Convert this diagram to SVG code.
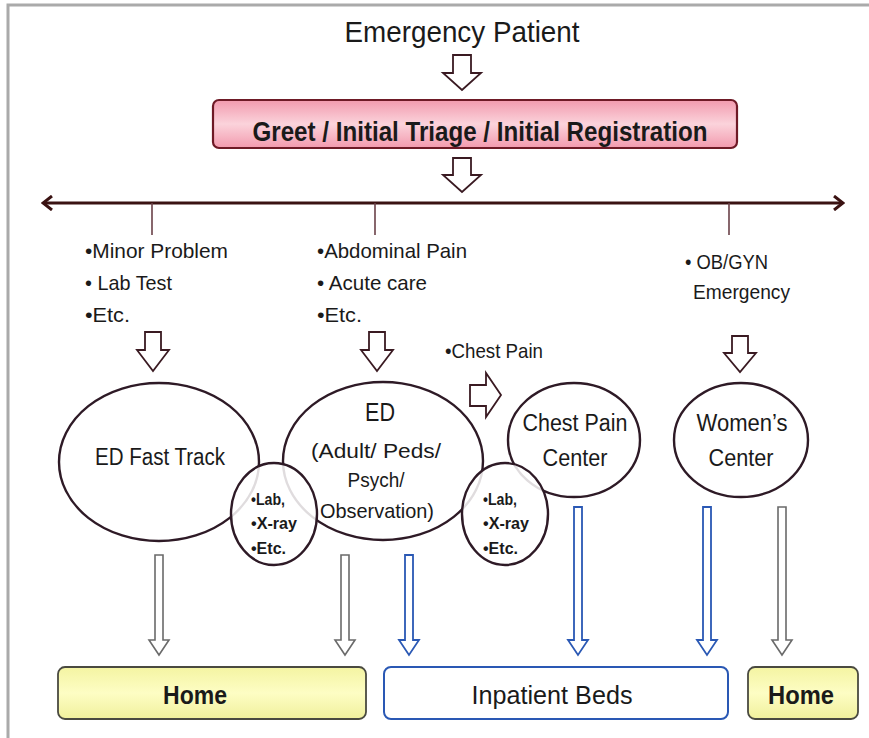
<svg xmlns="http://www.w3.org/2000/svg" width="869" height="738" viewBox="0 0 869 738">
  <defs>
    <linearGradient id="pinkFill" x1="0" y1="0" x2="0" y2="1">
      <stop offset="0" stop-color="#f29aae"/>
      <stop offset="0.5" stop-color="#fbd3db"/>
      <stop offset="1" stop-color="#f29aae"/>
    </linearGradient>
    <linearGradient id="yellowFill" x1="0" y1="0" x2="0" y2="1">
      <stop offset="0" stop-color="#f4f4a2"/>
      <stop offset="0.5" stop-color="#fdfdc4"/>
      <stop offset="1" stop-color="#f0f09c"/>
    </linearGradient>
    <marker id="chev" viewBox="0 0 12 16" refX="10" refY="8" markerWidth="12" markerHeight="16" markerUnits="userSpaceOnUse" orient="auto-start-reverse">
      <path d="M1,1 L10,8 L1,15" fill="none" stroke="#3a1212" stroke-width="3"/>
    </marker>
  </defs>
  <style>
    text { font-family: "Liberation Sans Narrow", "Liberation Sans", Arial, sans-serif; fill: #1a1a1a; }
    .t19 { font-size: 21px; }
    .t21 { font-size: 23px; }
    .sm { font-size: 16px; font-weight: bold; }
    .c { text-anchor: middle; }
    .hollow { fill: #ffffff; stroke: #3a1a22; stroke-width: 1.8; stroke-linejoin: miter; }
    .thinGray { fill: #ffffff; stroke: #6a6a6a; stroke-width: 1.6; }
    .thinBlue { fill: #ffffff; stroke: #2a58b4; stroke-width: 1.8; }
    .oval { fill: #ffffff; stroke: #2e1a26; stroke-width: 2.4; }
    .sub { fill: #ffffff; fill-opacity: 0.85; stroke: #2e1a26; stroke-width: 2.4; }
    .tick { stroke: #6a4048; stroke-width: 1.6; }
  </style>

  <!-- frame -->
  <path d="M8,738 V5 H869" fill="none" stroke="#aaaaaa" stroke-width="3"/>

  <g id="patient">
    <text x="462" y="42" class="c" font-size="29" textLength="235" lengthAdjust="spacingAndGlyphs">Emergency Patient</text>
  </g>

  <g id="triage">
    <rect x="213" y="100" width="524" height="48" rx="6" fill="url(#pinkFill)" stroke="#6e1a26" stroke-width="2.2"/>
    <text x="480" y="141" class="c" font-size="27" font-weight="bold" textLength="455" lengthAdjust="spacingAndGlyphs">Greet / Initial Triage / Initial Registration</text>
  </g>

  <g id="connectors">
    <!-- hollow block arrows -->
    <path class="hollow" d="M453,55 H471 V73 H481 L462,90 L443,73 H453 Z"/>
    <path class="hollow" d="M453,158 H471 V175 H481 L462,192 L443,175 H453 Z"/>
    <path class="hollow" d="M145,332 H161 V350 H169 L153,371 L137,350 H145 Z"/>
    <path class="hollow" d="M369,332 H385 V350 H393 L377,371 L361,350 H369 Z"/>
    <path class="hollow" d="M732,336 H748 V353 H756 L740,372 L724,353 H732 Z"/>
    <path class="hollow" d="M470,385 H486 V373 L501,395 L486,417 V406 H470 Z"/>

    <!-- distribution line -->
    <line x1="43" y1="203" x2="843" y2="203" stroke="#3a1212" stroke-width="3" marker-start="url(#chev)" marker-end="url(#chev)"/>
    <line class="tick" x1="152" y1="203" x2="152" y2="235"/>
    <line class="tick" x1="375" y1="203" x2="375" y2="235"/>
    <line class="tick" x1="729" y1="203" x2="729" y2="235"/>

    <!-- outflow arrows -->
    <path class="thinGray" d="M155,555 H163 V640 H169 L159,655 L149,640 H155 Z"/>
    <path class="thinGray" d="M341,555 H349 V640 H355 L345,655 L335,640 H341 Z"/>
    <path class="thinBlue" d="M405,555 H413 V640 H419 L409,655 L399,640 H405 Z"/>
    <path class="thinBlue" d="M574,507 H582 V640 H588 L578,655 L568,640 H574 Z"/>
    <path class="thinBlue" d="M703,507 H711 V640 H717 L707,655 L697,640 H703 Z"/>
    <path class="thinGray" d="M778,507 H786 V640 H792 L782,655 L772,640 H778 Z"/>
  </g>

  <g id="criteria">
    <text x="85" y="258" class="t19" textLength="143" lengthAdjust="spacingAndGlyphs">•Minor Problem</text>
    <text x="85" y="290" class="t19" textLength="87" lengthAdjust="spacingAndGlyphs">• Lab Test</text>
    <text x="85" y="322" class="t19" textLength="45" lengthAdjust="spacingAndGlyphs">•Etc.</text>
    <text x="317" y="258" class="t19" textLength="150" lengthAdjust="spacingAndGlyphs">•Abdominal Pain</text>
    <text x="317" y="290" class="t19" textLength="110" lengthAdjust="spacingAndGlyphs">• Acute care</text>
    <text x="317" y="322" class="t19" textLength="45" lengthAdjust="spacingAndGlyphs">•Etc.</text>
    <text x="685" y="269" class="t19" textLength="83" lengthAdjust="spacingAndGlyphs">• OB/GYN</text>
    <text x="693" y="299" class="t19" textLength="97" lengthAdjust="spacingAndGlyphs">Emergency</text>
    <text x="445" y="358" class="t19" textLength="98" lengthAdjust="spacingAndGlyphs">•Chest Pain</text>
  </g>

  <g id="fast-track">
    <ellipse class="oval" cx="159" cy="462" rx="100" ry="79"/>
    <text x="160" y="465" class="t21 c" textLength="130" lengthAdjust="spacingAndGlyphs">ED Fast Track</text>
  </g>

  <g id="ed-main">
    <ellipse class="oval" cx="383" cy="461" rx="100" ry="79"/>
    <text x="380" y="421" class="c" font-size="25" textLength="30" lengthAdjust="spacingAndGlyphs">ED</text>
    <text x="376" y="458" class="t19 c" textLength="130" lengthAdjust="spacingAndGlyphs">(Adult/ Peds/</text>
    <text x="376" y="487" class="t19 c" textLength="57" lengthAdjust="spacingAndGlyphs">Psych/</text>
    <text x="377" y="518" class="t19 c" textLength="114" lengthAdjust="spacingAndGlyphs">Observation)</text>
  </g>

  <g id="chest-pain-center">
    <ellipse class="oval" cx="574" cy="440" rx="66" ry="57"/>
    <text x="575" y="431" class="t21 c" textLength="105" lengthAdjust="spacingAndGlyphs">Chest Pain</text>
    <text x="575" y="466" class="t21 c" textLength="65" lengthAdjust="spacingAndGlyphs">Center</text>
  </g>

  <g id="womens-center">
    <ellipse class="oval" cx="741" cy="440" rx="67" ry="57"/>
    <text x="742" y="431" class="t21 c" textLength="91" lengthAdjust="spacingAndGlyphs">Women’s</text>
    <text x="741" y="466" class="t21 c" textLength="65" lengthAdjust="spacingAndGlyphs">Center</text>
  </g>

  <g id="ancillary-left">
    <ellipse class="sub" cx="274" cy="514" rx="43" ry="51"/>
    <text x="251" y="505" class="sm" textLength="34" lengthAdjust="spacingAndGlyphs">•Lab,</text>
    <text x="251" y="529" class="sm" textLength="46" lengthAdjust="spacingAndGlyphs">•X-ray</text>
    <text x="251" y="554" class="sm" textLength="35" lengthAdjust="spacingAndGlyphs">•Etc.</text>
  </g>

  <g id="ancillary-right">
    <ellipse class="sub" cx="505" cy="514" rx="43" ry="51"/>
    <text x="483" y="505" class="sm" textLength="34" lengthAdjust="spacingAndGlyphs">•Lab,</text>
    <text x="483" y="529" class="sm" textLength="46" lengthAdjust="spacingAndGlyphs">•X-ray</text>
    <text x="483" y="554" class="sm" textLength="35" lengthAdjust="spacingAndGlyphs">•Etc.</text>
  </g>

  <g id="home-left">
    <rect x="58" y="667" width="308" height="52" rx="7" fill="url(#yellowFill)" stroke="#4a4a40" stroke-width="1.8"/>
    <text x="195" y="704" class="c" font-size="25" font-weight="bold" textLength="64" lengthAdjust="spacingAndGlyphs">Home</text>
  </g>

  <g id="inpatient">
    <rect x="384" y="667" width="344" height="52" rx="7" fill="#ffffff" stroke="#2a58b4" stroke-width="2"/>
    <text x="552" y="704" class="c" font-size="25" textLength="161" lengthAdjust="spacingAndGlyphs">Inpatient Beds</text>
  </g>

  <g id="home-right">
    <rect x="748" y="667" width="110" height="52" rx="7" fill="url(#yellowFill)" stroke="#4a4a40" stroke-width="1.8"/>
    <text x="801" y="704" class="c" font-size="25" font-weight="bold" textLength="66" lengthAdjust="spacingAndGlyphs">Home</text>
  </g>
</svg>
